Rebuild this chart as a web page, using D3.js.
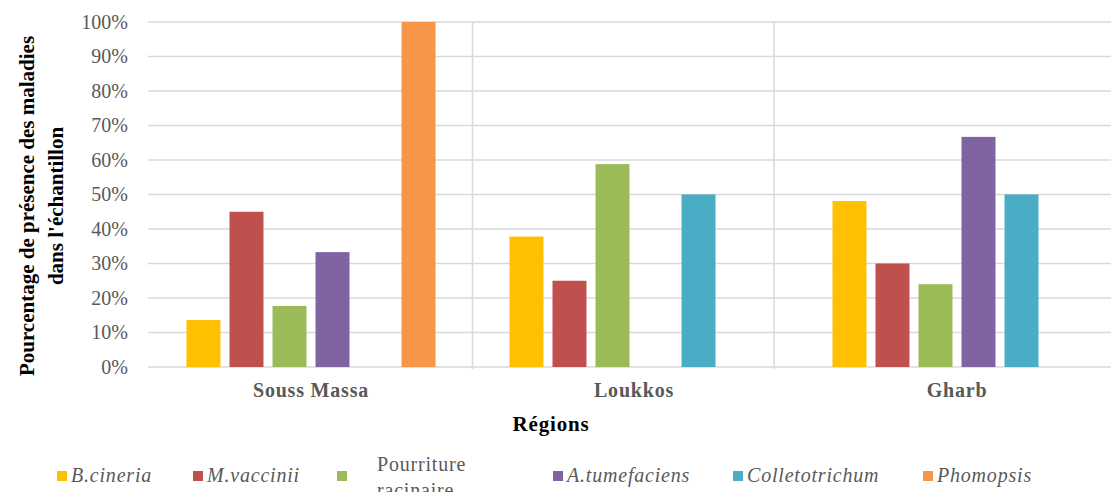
<!DOCTYPE html>
<html>
<head>
<meta charset="utf-8">
<script src="https://cdn.jsdelivr.net/npm/d3@7"></script>
<style>
  body { margin: 0; background: #fff; }
</style>
</head>
<body>
<svg id="chart" width="1111" height="492"></svg>
<script>
// regions (categories) and disease series
const regions = ["Souss Massa", "Loukkos", "Gharb"];
const diseases = ["B.cineria", "M.vaccinii", "Pourriture racinaire", "A.tumefaciens", "Colletotrichum", "Phomopsis"];
const colors = ["#FFC000", "#C0504D", "#9BBB59", "#8064A2", "#4BACC6", "#F79646"];

// percentage per disease, one value per region
const bCineria       = [13.6, 37.8, 48.1];
const mVaccinii      = [45.0, 25.0, 30.0];
const pourriture     = [17.7, 58.8, 24.0];
const aTumefaciens   = [33.3, 0, 66.7];
const colletotrichum = [0, 50.0, 50.0];
const phomopsis      = [100, 0, 0];
const seriesValues = [bCineria, mVaccinii, pourriture, aTumefaciens, colletotrichum, phomopsis];

const yTicks = [0, 10, 20, 30, 40, 50, 60, 70, 80, 90, 100];

// legend layout (left edge of each swatch)
const legendX = [57, 193, 337, 553, 733, 923];

const FONT = "'Liberation Serif', 'Times New Roman', serif";

const svg = d3.select("#chart");

const x0 = d3.scaleBand().domain(regions).range([149.5, 1118.5]);
const x1 = d3.scaleBand().domain(diseases).range([0, x0.bandwidth()])
    .paddingInner(0.21).paddingOuter(0.86);
const y = d3.scaleLinear().domain([0, 100]).range([367, 22]);

// horizontal gridlines
svg.append("g").selectAll("line")
    .data(yTicks)
    .enter().append("line")
    .attr("x1", 148).attr("x2", 1111)
    .attr("y1", d => y(d)).attr("y2", d => y(d))
    .attr("stroke", "#d9d9d9")
    .attr("stroke-width", 1.5);

// vertical separators: halfway between last bar of one region and first bar of the next
const seps = [];
for (let r = 0; r < regions.length - 1; r++) {
  let last = -1, first = -1;
  seriesValues.forEach((s, i) => { if (s[r] > 0) last = i; });
  for (let i = 0; i < seriesValues.length; i++) { if (seriesValues[i][r + 1] > 0) { first = i; break; } }
  const a = x0(regions[r]) + x1(diseases[last]) + x1.bandwidth();
  const b = x0(regions[r + 1]) + x1(diseases[first]);
  seps.push((a + b) / 2);
}
svg.append("g").selectAll("line")
    .data(seps)
    .enter().append("line")
    .attr("x1", d => d).attr("x2", d => d)
    .attr("y1", y(100)).attr("y2", y(0) + 2)
    .attr("stroke", "#d9d9d9")
    .attr("stroke-width", 1.5);

// bars
const groups = svg.append("g").selectAll("g")
    .data(regions)
    .enter().append("g")
    .attr("transform", d => `translate(${x0(d)},0)`);

groups.selectAll("rect")
    .data((r, ri) => diseases.map((dz, i) => ({ dz: dz, i: i, v: seriesValues[i][ri] })).filter(d => d.v > 0))
    .enter().append("rect")
    .attr("x", d => x1(d.dz))
    .attr("width", x1.bandwidth())
    .attr("y", d => y(d.v))
    .attr("height", d => y(0) - y(d.v))
    .attr("fill", d => colors[d.i]);

// y tick labels
svg.append("g").selectAll("text")
    .data(yTicks)
    .enter().append("text")
    .attr("x", 128)
    .attr("y", d => y(d) + 6.5)
    .attr("text-anchor", "end")
    .attr("fill", "#595959")
    .style("font-family", FONT)
    .style("font-size", "20px")
    .text(d => d + "%");

// x category labels
svg.append("g").selectAll("text")
    .data(regions)
    .enter().append("text")
    .attr("x", d => x0(d) + x0.bandwidth() / 2)
    .attr("y", 397)
    .attr("text-anchor", "middle")
    .attr("fill", "#595959")
    .style("font-family", FONT)
    .style("font-size", "20px")
    .style("font-weight", "bold")
    .style("letter-spacing", "0.8px")
    .text(d => d);

// axis titles
svg.append("text")
    .attr("x", 551)
    .attr("y", 431)
    .attr("text-anchor", "middle")
    .attr("fill", "#000")
    .style("font-family", FONT)
    .style("font-size", "21px")
    .style("font-weight", "bold")
    .style("letter-spacing", "0.8px")
    .text("Régions");

const yTitle = svg.append("text")
    .attr("transform", "translate(34,206) rotate(-90)")
    .attr("text-anchor", "middle")
    .attr("fill", "#000")
    .style("font-family", FONT)
    .style("font-size", "21px")
    .style("font-weight", "bold");
yTitle.append("tspan").attr("x", 0).attr("dy", 0).text("Pourcentage de présence des maladies");
yTitle.append("tspan").attr("x", 0).attr("dy", 29).text("dans l'échantillon");

// legend
const legend = svg.append("g").selectAll("g")
    .data(diseases)
    .enter().append("g")
    .attr("transform", (d, i) => `translate(${legendX[i]},0)`);

legend.append("rect")
    .attr("x", 0).attr("y", 471)
    .attr("width", 10).attr("height", 10)
    .attr("fill", (d, i) => colors[i]);

legend.each(function (d) {
  const g = d3.select(this);
  if (d === "Pourriture racinaire") {
    const t = g.append("text")
        .attr("fill", "#595959")
        .style("font-family", FONT)
        .style("font-size", "20px")
        .style("letter-spacing", "0.8px");
    t.append("tspan").attr("x", 40).attr("y", 471).text("Pourriture");
    t.append("tspan").attr("x", 40).attr("y", 497).text("racinaire");
  } else {
    g.append("text")
        .attr("x", 14)
        .attr("y", 482)
        .attr("fill", "#595959")
        .style("font-family", FONT)
        .style("font-size", "20px")
        .style("font-style", "italic")
        .style("letter-spacing", "0.8px")
        .text(d);
  }
});
</script>
</body>
</html>
